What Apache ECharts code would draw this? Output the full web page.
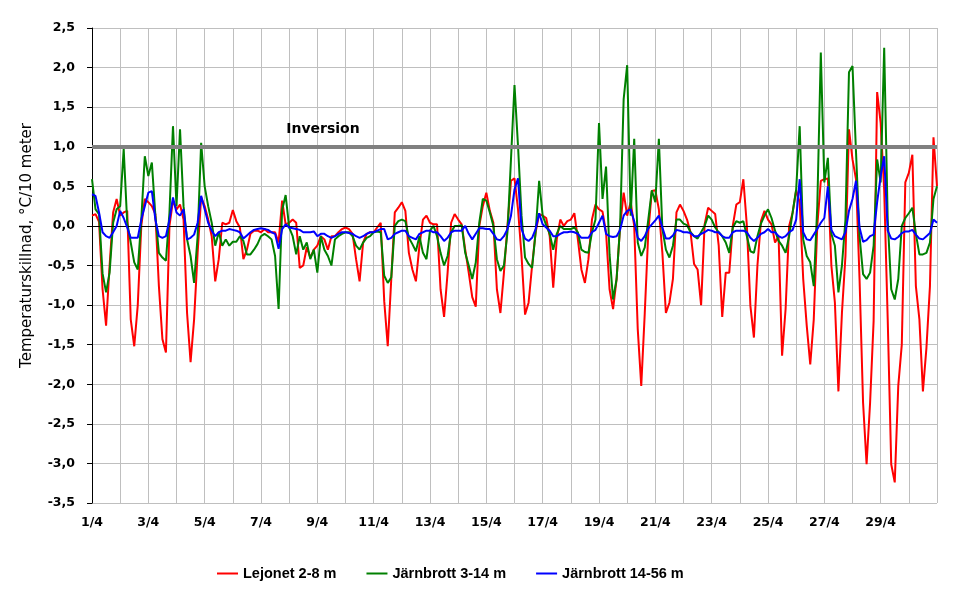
<!DOCTYPE html>
<html>
<head>
<meta charset="utf-8">
<script src="https://cdn.jsdelivr.net/npm/echarts@6/dist/echarts.min.js"></script>
<style>
html,body{margin:0;padding:0;background:#fff;}
#c{width:969px;height:592px;}
</style>
</head>
<body>
<div id="c"></div>
<script>
// Time step between samples (hours), samples start 1/4 00:00
const STEP_H = 3;
const xTickLabels = ['1/4','3/4','5/4','7/4','9/4','11/4','13/4','15/4','17/4','19/4','21/4','23/4','25/4','27/4','29/4'];
const yTicks = { min: -3.5, max: 2.5, interval: 0.5 };
const INVERSION = 1.0;

// Lejonet 2-8 m (8 samples per day)
const lejonet = [
  0.13,0.15,0.05,-0.8,-1.26,-0.5,0.17,0.34,
  0.13,0.17,0.19,-1.18,-1.52,-1.0,0.0,0.34,
  0.3,0.25,0.15,-0.76,-1.43,-1.6,0.0,0.32,
  0.21,0.27,0.08,-1.1,-1.72,-1.18,-0.34,0.36,
  0.25,0.08,-0.13,-0.7,-0.42,0.04,0.02,0.04,
  0.2,0.06,-0.02,-0.42,-0.3,-0.1,-0.06,-0.06,
  -0.08,-0.04,-0.08,-0.08,-0.08,-0.21,0.32,0.02,
  0.04,0.08,0.04,-0.53,-0.5,-0.27,-0.4,-0.3,
  -0.25,-0.13,-0.17,-0.3,-0.13,-0.13,-0.08,-0.04,
  -0.02,-0.04,-0.1,-0.42,-0.7,-0.21,-0.1,-0.08,
  -0.08,-0.02,0.04,-0.95,-1.52,-0.67,0.17,0.23,
  0.3,0.19,-0.34,-0.55,-0.7,-0.25,0.08,0.13,
  0.04,0.02,0.02,-0.8,-1.15,-0.59,0.04,0.15,
  0.08,0.02,-0.3,-0.59,-0.9,-1.02,0.0,0.25,
  0.42,0.19,0.04,-0.8,-1.1,-0.59,0.0,0.57,
  0.6,0.21,-0.38,-1.12,-0.97,-0.5,-0.08,0.15,
  0.13,0.1,-0.13,-0.78,-0.17,0.08,0.0,0.06,
  0.08,0.16,-0.17,-0.55,-0.72,-0.42,0.08,0.27,
  0.21,0.18,-0.08,-0.8,-1.05,-0.67,0.0,0.42,
  0.13,0.3,0.0,-1.3,-2.02,-1.1,-0.08,0.44,
  0.45,0.21,-0.34,-1.1,-0.97,-0.67,0.17,0.27,
  0.19,0.08,-0.08,-0.48,-0.55,-1.0,0.02,0.23,
  0.19,0.15,-0.25,-1.15,-0.59,-0.59,0.0,0.27,
  0.3,0.59,0.0,-1.01,-1.41,-0.5,0.06,0.19,
  0.08,0.02,-0.21,-0.13,-1.64,-1.05,0.0,0.17,
  0.45,0.3,-0.67,-1.26,-1.75,-1.18,0.0,0.57,
  0.59,0.6,-0.5,-0.97,-2.09,-1.1,-0.38,1.22,
  0.84,0.59,-0.67,-2.23,-3.01,-2.23,-1.2,1.69,
  1.3,0.45,-1.18,-3.01,-3.24,-2.02,-1.5,0.55,
  0.67,0.9,-0.76,-1.18,-2.09,-1.54,-0.76,1.12,
  0.5
];

// Järnbrott 3-14 m
const jarnbrott3_14 = [
  0.59,0.21,0.15,-0.6,-0.84,-0.59,0.04,0.21,
  0.25,0.97,0.04,-0.21,-0.46,-0.55,0.08,0.88,
  0.63,0.8,0.13,-0.34,-0.4,-0.44,0.17,1.26,
  0.25,1.22,0.25,-0.17,-0.38,-0.72,-0.13,1.05,
  0.5,0.25,0.04,-0.25,-0.08,-0.25,-0.17,-0.25,
  -0.2,-0.2,-0.13,-0.19,-0.36,-0.36,-0.3,-0.23,
  -0.13,-0.1,-0.13,-0.17,-0.38,-1.05,0.2,0.39,
  -0.02,-0.13,-0.36,-0.13,-0.3,-0.21,-0.42,-0.3,
  -0.59,-0.13,-0.3,-0.38,-0.5,-0.17,-0.13,-0.1,
  -0.08,-0.08,-0.13,-0.25,-0.3,-0.21,-0.15,-0.13,
  -0.08,-0.07,-0.08,-0.63,-0.72,-0.65,0.0,0.06,
  0.08,0.06,-0.15,-0.23,-0.32,-0.13,-0.34,-0.42,
  -0.06,0.0,-0.13,-0.34,-0.5,-0.38,-0.08,0.0,
  0.0,0.01,-0.34,-0.5,-0.67,-0.46,0.04,0.34,
  0.32,0.17,0.0,-0.42,-0.57,-0.5,-0.08,0.84,
  1.78,1.01,0.13,-0.4,-0.48,-0.53,-0.08,0.57,
  0.13,0.01,-0.1,-0.3,-0.1,0.0,-0.04,-0.04,
  -0.04,-0.02,-0.08,-0.3,-0.33,-0.34,-0.08,0.08,
  1.3,0.34,0.75,-0.36,-0.93,-0.67,0.0,1.6,
  2.03,0.13,1.1,-0.21,-0.38,-0.27,0.08,0.45,
  0.3,1.1,-0.04,-0.3,-0.4,-0.25,0.08,0.08,
  0.03,0.01,-0.08,-0.13,-0.16,-0.08,0.0,0.13,
  0.08,-0.02,-0.08,-0.13,-0.21,-0.34,-0.02,0.06,
  0.04,0.06,-0.13,-0.32,-0.34,-0.13,0.03,0.13,
  0.21,0.1,-0.06,-0.19,-0.25,-0.34,-0.13,0.17,
  0.46,1.26,-0.17,-0.38,-0.46,-0.76,0.25,2.19,
  0.55,0.86,-0.1,-0.25,-0.84,-0.5,0.08,1.94,
  2.02,0.93,-0.13,-0.61,-0.67,-0.59,-0.25,0.84,
  0.55,2.25,0.08,-0.8,-0.93,-0.67,0.0,0.1,
  0.16,0.23,-0.1,-0.36,-0.36,-0.34,-0.21,0.34,
  0.5
];

// Järnbrott 14-56 m
const jarnbrott14_56 = [
  0.4,0.38,0.17,-0.08,-0.13,-0.15,-0.08,0.0,
  0.19,0.1,-0.02,-0.15,-0.15,-0.15,0.08,0.25,
  0.42,0.44,0.08,-0.13,-0.15,-0.13,0.08,0.36,
  0.17,0.13,0.21,-0.17,-0.15,-0.11,0.04,0.38,
  0.21,0.04,-0.06,-0.13,-0.08,-0.06,-0.06,-0.04,
  -0.05,-0.06,-0.08,-0.16,-0.12,-0.08,-0.05,-0.04,
  -0.03,-0.04,-0.05,-0.08,-0.1,-0.29,-0.04,0.02,
  -0.02,-0.03,-0.04,-0.05,-0.08,-0.08,-0.08,-0.07,
  -0.13,-0.1,-0.1,-0.13,-0.15,-0.13,-0.1,-0.08,
  -0.08,-0.09,-0.1,-0.13,-0.15,-0.13,-0.1,-0.08,
  -0.08,-0.06,-0.04,-0.04,-0.17,-0.15,-0.1,-0.08,
  -0.06,-0.06,-0.13,-0.15,-0.17,-0.1,-0.08,-0.06,
  -0.06,-0.08,-0.08,-0.13,-0.19,-0.15,-0.08,-0.06,
  -0.06,-0.06,0.0,-0.1,-0.17,-0.1,-0.03,-0.03,
  -0.04,-0.04,-0.1,-0.17,-0.18,-0.13,-0.04,0.13,
  0.46,0.6,-0.04,-0.16,-0.19,-0.15,-0.04,0.16,
  0.02,-0.02,-0.06,-0.13,-0.13,-0.1,-0.08,-0.08,
  -0.07,-0.08,-0.1,-0.15,-0.15,-0.15,-0.08,-0.05,
  0.04,0.13,-0.1,-0.13,-0.14,-0.13,-0.05,0.13,
  0.19,0.21,0.06,-0.15,-0.19,-0.13,-0.03,0.02,
  0.07,0.13,-0.02,-0.16,-0.16,-0.12,-0.05,-0.06,
  -0.08,-0.08,-0.09,-0.13,-0.13,-0.1,-0.08,-0.05,
  -0.06,-0.08,-0.08,-0.13,-0.15,-0.15,-0.08,-0.06,
  -0.06,-0.06,-0.08,-0.15,-0.19,-0.15,-0.1,-0.08,
  -0.04,-0.08,-0.08,-0.13,-0.15,-0.13,-0.08,-0.05,
  0.08,0.59,-0.08,-0.17,-0.18,-0.11,-0.04,0.04,
  0.1,0.5,-0.05,-0.13,-0.15,-0.17,-0.08,0.19,
  0.34,0.57,-0.02,-0.2,-0.18,-0.13,-0.11,0.3,
  0.63,0.88,-0.06,-0.16,-0.17,-0.14,-0.09,-0.07,
  -0.07,-0.05,-0.11,-0.16,-0.17,-0.13,-0.09,0.08,
  0.04
];

const seriesNames = ['Lejonet 2-8 m', 'Järnbrott 3-14 m', 'Järnbrott 14-56 m'];
const seriesColors = ['#FF0000', '#008000', '#0000FF'];
const seriesData = [lejonet, jarnbrott3_14, jarnbrott14_56];

const X_MAX = 30 * 24; // hours in April
const toPairs = arr => arr.map((v, i) => [i * STEP_H, v]);

const chart = echarts.init(document.getElementById('c'), null, { renderer: 'canvas' });

const series = seriesData.map((arr, k) => ({
  name: seriesNames[k],
  type: 'line',
  data: toPairs(arr),
  symbol: 'none',
  showSymbol: false,
  smooth: false,
  z: 3 + k,
  lineStyle: { color: seriesColors[k], width: 2 },
  itemStyle: { color: seriesColors[k] },
  animation: false
}));

// reference lines (zero and inversion) on a helper series
series.unshift({
  name: 'ref',
  type: 'line',
  data: [],
  z: 2,
  silent: true,
  animation: false,
  markLine: {
    silent: true,
    symbol: ['none', 'none'],
    animation: false,
    label: { show: false },
    data: [
      { yAxis: 0, lineStyle: { color: '#000000', width: 1, type: 'solid' } },
      { yAxis: INVERSION, lineStyle: { color: '#808080', width: 4, type: 'solid' } }
    ]
  },
  markPoint: {
    silent: true,
    animation: false,
    symbol: 'rect',
    symbolSize: 0,
    data: [{ coord: [8.2 * 24, INVERSION] }],
    label: {
      show: true,
      formatter: 'Inversion',
      position: 'top',
      distance: 10,
      color: '#000',
      fontFamily: 'DejaVu Sans',
      fontWeight: 'bold',
      fontSize: 14
    }
  }
});

chart.setOption({
  backgroundColor: '#ffffff',
  animation: false,
  grid: { left: 92, right: 32, top: 28, bottom: 89, containLabel: false },
  legend: {
    data: seriesNames.map((n, k) => ({ name: n, icon: 'rect', itemStyle: { color: seriesColors[k] } })),
    left: 212,
    top: 561,
    itemWidth: 21,
    itemHeight: 2,
    itemGap: 30,
    textStyle: { fontFamily: 'Liberation Sans', fontWeight: 'bold', fontSize: 14.5, color: '#000' }
  },
  xAxis: {
    type: 'value',
    min: 0,
    max: X_MAX,
    interval: 24,
    axisLine: { show: false },
    axisTick: { show: false },
    splitLine: { show: true, lineStyle: { color: '#BFBFBF', width: 1 } },
    axisLabel: {
      margin: 13,
      showMaxLabel: false,
      color: '#000',
      fontFamily: 'DejaVu Sans',
      fontWeight: 'bold',
      fontSize: 12.5,
      formatter: v => {
        const d = Math.round(v / 24);
        return (d % 2 === 0 && d / 2 < xTickLabels.length) ? xTickLabels[d / 2] : '';
      }
    }
  },
  yAxis: {
    type: 'value',
    min: yTicks.min,
    max: yTicks.max,
    interval: yTicks.interval,
    name: 'Temperaturskillnad, °C/10 meter',
    nameLocation: 'middle',
    nameRotate: 90,
    nameGap: 57,
    nameTextStyle: { fontFamily: 'DejaVu Sans', fontSize: 15, color: '#000', padding: [0, 0, 0, 40] },
    axisLine: { show: true, lineStyle: { color: '#000', width: 1 } },
    axisTick: { show: true, inside: false, length: 5, lineStyle: { color: '#000' } },
    splitLine: { show: true, lineStyle: { color: '#BFBFBF', width: 1 } },
    axisLabel: {
      margin: 17,
      color: '#000',
      fontFamily: 'DejaVu Sans',
      fontWeight: 'bold',
      fontSize: 12.5,
      formatter: v => v.toFixed(1).replace('.', ',')
    }
  },
  series: series
});
</script>
</body>
</html>
